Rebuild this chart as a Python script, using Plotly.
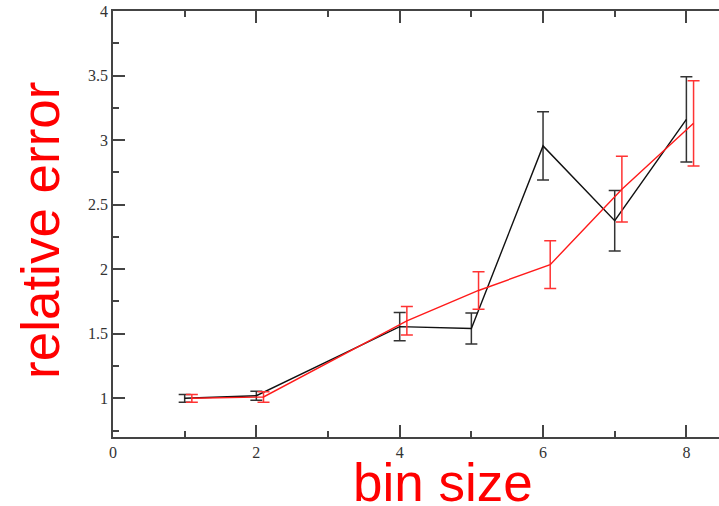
import plotly.graph_objects as go

# Data
black_x = [1, 2, 4, 5, 6, 7, 8]
black_y = [1.00, 1.02, 1.555, 1.54, 2.955, 2.375, 3.16]
black_err = [0.03, 0.035, 0.11, 0.12, 0.265, 0.235, 0.33]

red_x = [1.1, 2.1, 4.1, 5.1, 6.1, 7.1, 8.1]
red_y = [1.00, 1.01, 1.60, 1.835, 2.035, 2.62, 3.13]
red_err = [0.03, 0.04, 0.11, 0.145, 0.185, 0.255, 0.33]

x_ticks = [0, 2, 4, 6, 8]
y_ticks = [1, 1.5, 2, 2.5, 3, 3.5, 4]
y_tick_labels = ["1", "1.5", "2", "2.5", "3", "3.5", "4"]

W, H = 719, 506
ML, MR, MT, MB = 113, 0, 11, 69

fig = go.Figure()
fig.add_trace(go.Scatter(
    x=black_x, y=black_y, mode="lines",
    line=dict(color="#111111", width=1.4),
    error_y=dict(type="data", array=black_err, visible=True,
                 color="#333333", thickness=1.5, width=6),
    showlegend=False))
fig.add_trace(go.Scatter(
    x=red_x, y=red_y, mode="lines",
    line=dict(color="#ff1a1a", width=1.4),
    error_y=dict(type="data", array=red_err, visible=True,
                 color="#ff3333", thickness=1.5, width=6),
    showlegend=False))

axis_col = "#444444"
tick_font = dict(family="Liberation Serif, Times New Roman, serif", size=16, color="#333333")

fig.update_layout(
    width=W, height=H,
    margin=dict(l=ML, r=MR, t=MT, b=MB, pad=0, autoexpand=False),
    paper_bgcolor="white", plot_bgcolor="white",
    xaxis=dict(range=[0, 8.455], tickmode="array", tickvals=x_ticks,
               ticktext=[str(v) for v in x_ticks],
               ticks="inside", ticklen=12, tickwidth=1.5, tickcolor=axis_col,
               minor=dict(ticks="inside", ticklen=6, dtick=1, tick0=0,
                          tickwidth=1.5, tickcolor=axis_col, showgrid=False),
               showline=True, linecolor=axis_col, linewidth=1.5, mirror="ticks",
               showgrid=False, zeroline=False, tickfont=tick_font,
               ticklabeloverflow="allow", automargin=False),
    yaxis=dict(range=[0.7, 4], tickmode="array", tickvals=y_ticks,
               ticktext=y_tick_labels,
               ticks="inside", ticklen=12, tickwidth=1.5, tickcolor=axis_col,
               minor=dict(ticks="inside", ticklen=6, dtick=0.25, tick0=0,
                          tickwidth=1.5, tickcolor=axis_col, showgrid=False),
               showline=True, linecolor=axis_col, linewidth=1.5, mirror=False,
               showgrid=False, zeroline=False, tickfont=tick_font,
               ticklabeloverflow="allow", automargin=False),
    yaxis2=dict(range=[0.7, 4], overlaying="y", side="right",
                tickmode="array", tickvals=y_ticks, showticklabels=False,
                ticks="inside", ticklen=12, tickwidth=1.5, tickcolor=axis_col,
                minor=dict(ticks="inside", ticklen=6, dtick=0.25, tick0=0,
                           tickwidth=1.5, tickcolor=axis_col, showgrid=False),
                showline=False, showgrid=False, zeroline=False,
                automargin=False),
)

title_font = dict(family="Liberation Sans, Arial, sans-serif", size=53, color="#ff0000")
plot_w = W - ML - MR
plot_h = H - MT - MB
plot_bottom = H - MB
# target centres in window pixels
bx, by = 443, 482
rx, ry = 40, 231
fig.add_annotation(text="bin size", xref="paper", yref="paper",
                   x=(bx - ML) / plot_w, y=(plot_bottom - by) / plot_h,
                   xanchor="center", yanchor="middle", showarrow=False,
                   font=title_font)
fig.add_annotation(text="relative error", xref="paper", yref="paper",
                   x=(rx - ML) / plot_w, y=(plot_bottom - ry) / plot_h,
                   xanchor="center", yanchor="middle", textangle=-90,
                   showarrow=False, font=title_font)

# remove the default page margin so the figure fills the window exactly
fig.write_html("out.html",
               config={"displayModeBar": False},
               post_script="document.body.style.margin='0';document.body.style.overflow='hidden';")
